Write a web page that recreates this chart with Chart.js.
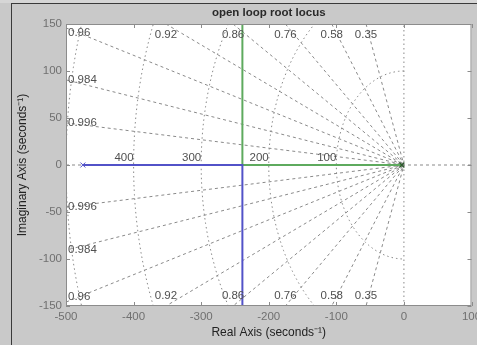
<!DOCTYPE html>
<html>
<head>
<meta charset="utf-8">
<script src="https://cdn.jsdelivr.net/npm/chart.js@4/dist/chart.umd.min.js"></script>
<style>
  html, body { margin: 0; padding: 0; background: #c9c9c9; }
  #wrap { width: 477px; height: 345px; }
</style>
</head>
<body>
<div id="wrap"><canvas id="c" width="477" height="345"></canvas></div>
<script>
// ---- data ----
const chartTitle = 'open loop root locus';
const zetaValues = [0.35, 0.58, 0.76, 0.86, 0.92, 0.96, 0.984, 0.996];
const wnValues = [100, 200, 300, 400, 500];
const wnLabelValues = [100, 200, 300, 400];
const xTicks = [-500, -400, -300, -200, -100, 0, 100];
const yTicks = [-150, -100, -50, 0, 50, 100, 150];
const xRange = [-500, 100];
const yRange = [-150, 150];
// root-locus branches
const branch1X = [-475, -239, -239];
const branch1Y = [0, 0, -150];
const branch2X = [-3, -239, -239];
const branch2Y = [0, 0, 150];
const polesX = [-475, -3];
const polesY = [0, 0];

const FONT = "'Liberation Sans', Arial, Helvetica, sans-serif";
const GRID = '#8a8a8a';

const datasets = [];
const toPts = (xs, ys) => xs.map((x, i) => ({x, y: ys[i]}));

datasets.push({data: toPts(branch1X, branch1Y), borderColor: '#5252c8', borderWidth: 2, showLine: true, pointRadius: 0, order: 1});
datasets.push({data: toPts(branch2X, branch2Y), borderColor: '#5eaa5e', borderWidth: 2, showLine: true, pointRadius: 0, order: 1});
datasets.push({data: [{x: polesX[0], y: polesY[0]}], showLine: false, pointStyle: 'crossRot', pointRadius: 3.5, borderColor: '#5252c8', borderWidth: 1, order: 0});
datasets.push({data: [{x: polesX[1], y: polesY[1]}], showLine: false, pointStyle: 'crossRot', pointRadius: 3.5, borderColor: '#2f5a2f', borderWidth: 1.5, order: 0});

// constant damping lines (from origin to the plot border)
function zetaEnd(z, sign) {
  const s = Math.sqrt(1 - z * z);
  const t = Math.min(-xRange[0] / z, yRange[1] / s);
  return {x: -z * t, y: sign * s * t};
}
zetaValues.forEach(z => {
  datasets.push({data: [zetaEnd(z, 1), {x: 0, y: 0}, zetaEnd(z, -1)], showLine: true, pointRadius: 0,
    borderColor: GRID, borderWidth: 1, borderDash: [3, 3], order: 5});
});
// constant natural-frequency arcs
wnValues.forEach(w => {
  const pts = [];
  for (let a = 90; a <= 270; a += 1.5) {
    const r = a * Math.PI / 180;
    pts.push({x: w * Math.cos(r), y: w * Math.sin(r)});
  }
  datasets.push({data: pts, showLine: true, pointRadius: 0, borderColor: GRID, borderWidth: 1, borderDash: [1.5, 3], order: 5});
});
// real axis (dashed) and imaginary axis (dotted)
datasets.push({data: [{x: xRange[0], y: 0}, {x: xRange[1], y: 0}], showLine: true, pointRadius: 0, borderColor: GRID, borderWidth: 1, borderDash: [3, 3], order: 6});
datasets.push({data: [{x: 0, y: yRange[0]}, {x: 0, y: yRange[1]}], showLine: true, pointRadius: 0, borderColor: GRID, borderWidth: 1, borderDash: [1.5, 3], order: 6});

const framePlugin = {
  id: 'frame',
  beforeDraw(chart) {
    const {ctx, chartArea: a, width, height} = chart;
    ctx.save();
    ctx.fillStyle = '#c9c9c9';
    ctx.fillRect(0, 0, width, height);
    ctx.fillStyle = '#d6d6d6';
    ctx.fillRect(0, 0, width, 3);
    ctx.strokeStyle = '#3a3a3a';
    ctx.lineWidth = 1;
    ctx.beginPath();
    ctx.moveTo(11, 3.5); ctx.lineTo(width, 3.5);
    ctx.moveTo(11.5, 3); ctx.lineTo(11.5, height);
    ctx.stroke();
    ctx.fillStyle = '#ffffff';
    ctx.fillRect(a.left, a.top, a.right - a.left, a.bottom - a.top);
    // title
    ctx.fillStyle = '#2a2a2a';
    ctx.font = 'bold 11.5px ' + FONT;
    ctx.textAlign = 'center';
    ctx.textBaseline = 'middle';
    ctx.fillText(chartTitle, (a.left + a.right) / 2, 12.5);
    ctx.restore();
  },
  afterDatasetsDraw(chart) {
    const {ctx, chartArea: a, scales: {x, y}} = chart;
    ctx.save();
    ctx.font = '11.5px ' + FONT;
    ctx.fillStyle = '#505050';
    // zeta labels
    zetaValues.forEach(z => {
      [1, -1].forEach(sign => {
        const e = zetaEnd(z, sign);
        const px = x.getPixelForValue(e.x), py = y.getPixelForValue(e.y);
        if (Math.abs(e.y) >= yRange[1] - 1e-6 && e.x > xRange[0]) {
          ctx.textAlign = 'center'; ctx.textBaseline = 'middle';
          ctx.fillText(String(z), px, sign > 0 ? a.top + 11 : a.bottom - 10);
        } else {
          ctx.textAlign = 'left'; ctx.textBaseline = 'middle';
          let ty = py;
          if (sign > 0) ty = Math.max(ty, a.top + 9); else ty = Math.min(ty, a.bottom - 9);
          ctx.fillText(String(z), a.left + 2, ty);
        }
      });
    });
    // wn labels
    ctx.textAlign = 'right'; ctx.textBaseline = 'bottom';
    wnLabelValues.forEach(w => {
      ctx.fillText(String(w), x.getPixelForValue(-w), y.getPixelForValue(0) - 1);
    });
    ctx.restore();
  },
  afterDraw(chart) {
    const {ctx, chartArea: a, scales: {x, y}} = chart;
    ctx.save();
    ctx.strokeStyle = '#8c8c8c';
    ctx.lineWidth = 1;
    ctx.strokeRect(a.left + 0.5, a.top + 0.5, a.right - a.left - 1, a.bottom - a.top - 1);
    ctx.beginPath();
    const L = 4;
    xTicks.forEach(v => {
      const px = Math.round(x.getPixelForValue(v)) + 0.5;
      ctx.moveTo(px, a.top); ctx.lineTo(px, a.top + L);
      ctx.moveTo(px, a.bottom); ctx.lineTo(px, a.bottom - L);
    });
    yTicks.forEach(v => {
      const py = Math.round(y.getPixelForValue(v)) + 0.5;
      ctx.moveTo(a.left, py); ctx.lineTo(a.left + L, py);
      ctx.moveTo(a.right, py); ctx.lineTo(a.right - L, py);
    });
    ctx.stroke();
    ctx.restore();
  }
};

new Chart(document.getElementById('c'), {
  type: 'scatter',
  data: {datasets},
  plugins: [framePlugin],
  options: {
    responsive: false,
    animation: false,
    events: [],
    layout: {padding: {top: 24, right: 5, left: 0, bottom: 0}},
    plugins: {legend: {display: false}, tooltip: {enabled: false}, title: {display: false}},
    scales: {
      x: {
        type: 'linear', min: xRange[0], max: xRange[1],
        afterBuildTicks: s => { s.ticks = xTicks.map(v => ({value: v})); },
        afterFit: s => { s.height = 39; s.paddingLeft = 0; s.paddingRight = 0; },
        grid: {display: false, drawTicks: false},
        border: {display: false},
        ticks: {color: '#707070', font: {size: 11.5, family: FONT}, padding: 4, maxRotation: 0, autoSkip: false},
        title: {display: true, text: 'Real Axis (seconds⁻¹)', color: '#222', font: {size: 12, family: FONT}, padding: {top: 0, bottom: 5}}
      },
      y: {
        type: 'linear', min: yRange[0], max: yRange[1],
        afterBuildTicks: s => { s.ticks = yTicks.map(v => ({value: v})); },
        afterFit: s => { s.width = 66; s.paddingTop = 0; s.paddingBottom = 0; },
        grid: {display: false, drawTicks: false},
        border: {display: false},
        ticks: {color: '#707070', font: {size: 11.5, family: FONT}, padding: 4, autoSkip: false},
        title: {display: true, text: 'Imaginary Axis (seconds⁻¹)', color: '#222', font: {size: 12, family: FONT}, padding: {top: 15, bottom: 0}}
      }
    }
  }
});
</script>
</body>
</html>
